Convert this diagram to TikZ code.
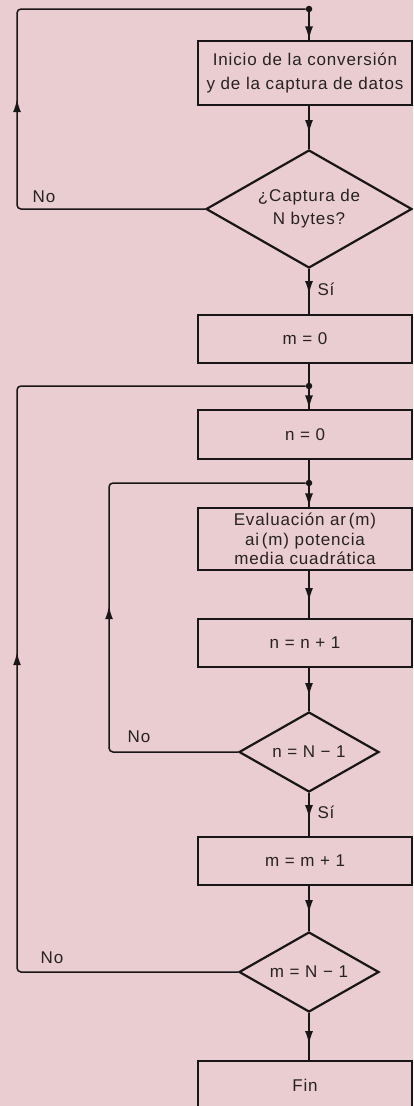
\documentclass[tikz,border=0pt]{standalone}
\usepackage{fontspec}
\setmainfont[LetterSpace=5]{Liberation Sans}
\usetikzlibrary{shapes.geometric, arrows.meta, decorations.markings}

\definecolor{paper}{HTML}{EACDD0}
\definecolor{ink}{HTML}{181616}
\definecolor{txt}{HTML}{262222}

\tikzset{
  stepbox/.style={draw=ink, line width=2pt, rectangle, minimum width=214pt,
    inner sep=0pt, align=center, text=txt, font=\fontsize{17}{24}\selectfont},
  testbox/.style={draw=ink, line width=2.2pt, diamond, shape aspect=1.75,
    inner sep=0pt, align=center, text=txt, font=\fontsize{17}{23}\selectfont},
  flow/.style={draw=ink, color=ink, line width=1.5pt},
  tip at/.style={postaction={decorate}, decoration={markings,
    mark=at position #1 with {\arrow{Latex[length=13pt,width=8pt]}}}},
  junction/.style={circle, fill=ink, inner sep=0pt, minimum size=6.5pt},
  answer/.style={inner sep=0pt, text=txt, font=\fontsize{17}{19}\selectfont},
}

\begin{document}
\begin{tikzpicture}[x=1pt, y=-1pt]
  \useasboundingbox (0,0) rectangle (413,1106);
  \clip (0,0) rectangle (413,1106);
  \fill[paper] (0,0) rectangle (413,1106);

  % process steps and tests
  \node[junction] (top) at (309,9) {};
  \node[stepbox, minimum height=64pt] (start) at (305,73)
    {Inicio de la conversión\\y de la captura de datos};
  \node[testbox, minimum width=206pt, minimum height=118pt] (full) at (309,209)
    {¿Captura de\\N bytes?};
  \node[stepbox, minimum height=48pt] (m0) at (305,339) {m = 0};
  \node[junction] (jm) at (309,386) {};
  \node[stepbox, minimum height=49pt] (n0) at (305,434.5) {n = 0};
  \node[junction] (jn) at (309,483) {};
  \node[stepbox, minimum height=62pt, font=\fontsize{17}{19.5}\selectfont] (eval) at (305,539)
    {Evaluación ar\,(m)\\ai\,(m) potencia\\media cuadrática};
  \node[stepbox, minimum height=48pt] (ninc) at (305,643) {n = n + 1};
  \node[testbox, minimum width=140pt, minimum height=80pt] (ntest) at (309,752) {n = N − 1};
  \node[stepbox, minimum height=48pt] (minc) at (305,861) {m = m + 1};
  \node[testbox, minimum width=140pt, minimum height=80pt] (mtest) at (309,972) {m = N − 1};
  \node[stepbox, minimum height=48pt] (fin) at (305,1085) {Fin};

  % main column
  \draw[flow, tip at=27pt] (top) -- (start.north -| top);
  \draw[flow, tip at=27pt] (start.south -| full) -- (full.north);
  \draw[flow, tip at=25pt] (full.south) -- (m0.north -| full);
  \draw[flow] (m0.south -| jm) -- (jm);
  \draw[flow, tip at=19pt] (jm) -- (n0.north -| jm);
  \draw[flow] (n0.south -| jn) -- (jn);
  \draw[flow, tip at=20pt] (jn) -- (eval.north -| jn);
  \draw[flow, tip at=30pt] (eval.south -| ntest) -- (ninc.north -| ntest);
  \draw[flow, tip at=28pt] (ninc.south -| ntest) -- (ntest.north);
  \draw[flow, tip at=25pt] (ntest.south) -- (minc.north -| ntest);
  \draw[flow, tip at=27pt] (minc.south -| mtest) -- (mtest.north);
  \draw[flow, tip at=31pt] (mtest.south) -- (fin.north -| mtest);

  % return paths
  \coordinate (outerA) at (17,209);
  \coordinate (outerB) at (17,9);
  \coordinate (innerA) at (109,752);
  \coordinate (innerB) at (109,483);
  \coordinate (outerC) at (17,972);
  \coordinate (outerD) at (17,386);
  \draw[flow, rounded corners=4pt, tip at=296pt] (full.west) -- (outerA) -- (outerB) -- (top);
  \draw[flow, rounded corners=4pt, tip at=273pt] (ntest.west) -- (innerA) -- (innerB) -- (jn);
  \draw[flow, rounded corners=4pt, tip at=539pt] (mtest.west) -- (outerC) -- (outerD) -- (jm);

  % branch labels
  \node[answer] (no1) at (44,197) {No};
  \node[answer] (si1) at (326,289) {Sí};
  \node[answer] (no2) at (139,737) {No};
  \node[answer] (si2) at (326,812) {Sí};
  \node[answer] (no3) at (52,958) {No};
\end{tikzpicture}
\end{document}
